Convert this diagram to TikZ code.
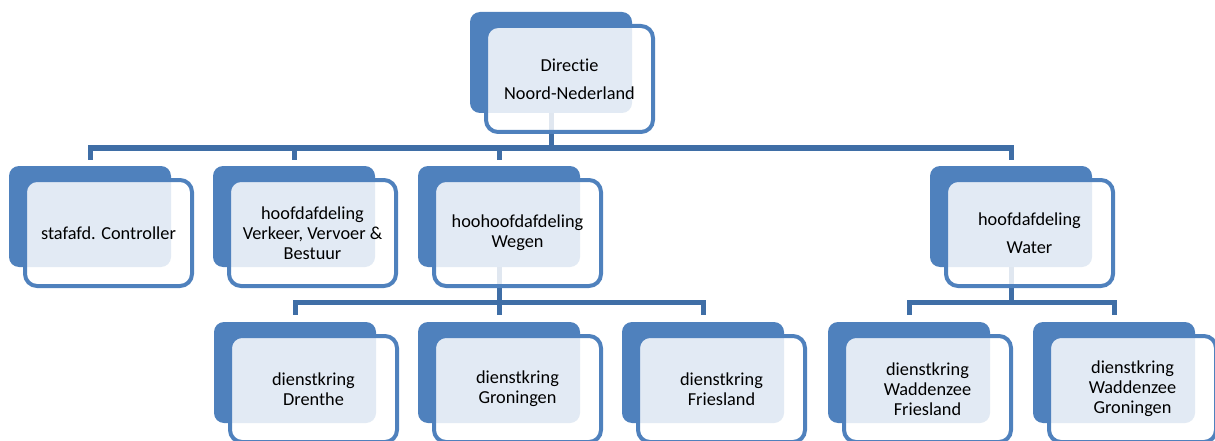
\documentclass[tikz,border=0pt]{standalone}
\usepackage{fontspec}
\setmainfont[Ligatures=NoCommon]{Carlito}
\definecolor{accent}{HTML}{4F81BD}
\definecolor{connc}{HTML}{3F6EA6}
\begin{document}
\begin{tikzpicture}[x=1pt,y=-1pt,
  backbox/.style={fill=accent, rounded corners=10pt, minimum width=162pt, minimum height=101pt, inner sep=0pt, outer sep=0pt},
  frontbox/.style={draw=accent, line width=4pt, fill=white, fill opacity=0.84, text opacity=1, rounded corners=12pt, minimum width=167pt, minimum height=106pt, inner sep=0pt, outer sep=0pt, align=center, font=\fontsize{18.3}{20}\selectfont},
  widebox/.style={frontbox, font=\fontsize{18.3}{28}\selectfont},
  conn/.style={draw=connc, line width=5pt}]
\useasboundingbox (0,0) rectangle (1215,441);
\clip (0,0) rectangle (1215,441);
% back boxes
\node[backbox] (bt) at (551,62.5) {};
\node[backbox] (ba) at (90,216.5) {};
\node[backbox] (bb) at (294,216.5) {};
\node[backbox] (bc) at (499,216.5) {};
\node[backbox] (bd) at (1011,216.5) {};
\node[backbox] (be) at (295,372.5) {};
\node[backbox] (bf) at (499,372.5) {};
\node[backbox] (bg) at (703,372.5) {};
\node[backbox] (bh) at (909,372.5) {};
\node[backbox] (bi) at (1114,372.5) {};
% junctions
\coordinate (j0) at (551,148);
\coordinate (jc) at (499,302);
\coordinate (jd) at (1011,302);
% connectors
\draw[conn] (bt.south) -- (j0);
\draw[conn] (j0) -| ([yshift=6pt]ba.north);
\draw[conn] (j0) -| ([yshift=6pt]bb.north);
\draw[conn] (j0) -| ([yshift=6pt]bc.north);
\draw[conn] (j0) -| ([yshift=6pt]bd.north);
\draw[conn] (bc.south) -- (jc);
\draw[conn] (jc) -| ([yshift=7pt]be.north);
\draw[conn] (jc) -| ([yshift=7pt]bf.north);
\draw[conn] (jc) -| ([yshift=7pt]bg.north);
\draw[conn] (bd.south) -- (jd);
\draw[conn] (jd) -| ([yshift=7pt]bh.north);
\draw[conn] (jd) -| ([yshift=7pt]bi.north);
% front boxes
\node[widebox] (ft) at (569.5,79) {Directie\\Noord-Nederland};
\node[frontbox] (fa) at (108.5,233) {stafafd. Controller};
\node[frontbox] (fb) at (312.5,233) {hoofdafdeling\\Verkeer, Vervoer \&\\Bestuur};
\node[frontbox] (fc) at (517.5,233) {hoohoofdafdeling\\Wegen};
\node[widebox] (fd) at (1029.5,233) {hoofdafdeling\\Water};
\node[frontbox] (fe) at (313.5,389) {dienstkring\\Drenthe};
\node[frontbox] (ff) at (517.5,389) {dienstkring\\Groningen};
\node[frontbox] (fg) at (721.5,389) {dienstkring\\Friesland};
\node[frontbox] (fh) at (927.5,389) {dienstkring\\Waddenzee\\Friesland};
\node[frontbox] (fi) at (1132.5,389) {dienstkring\\Waddenzee\\Groningen};
\end{tikzpicture}
\end{document}
